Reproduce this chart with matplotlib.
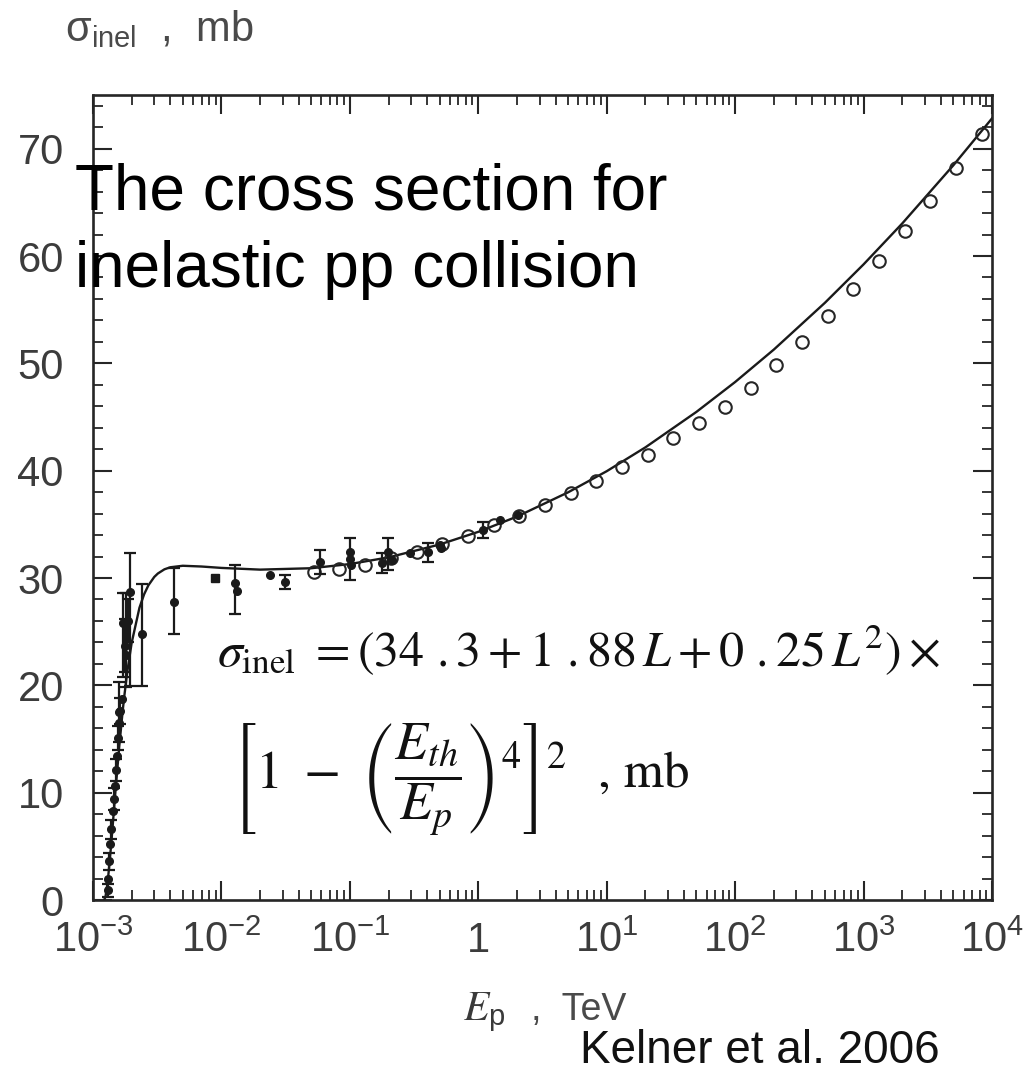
import numpy as np
import matplotlib
matplotlib.use('Agg')
import matplotlib.pyplot as plt
from matplotlib.ticker import MultipleLocator, LogLocator, NullFormatter

plt.rcParams['mathtext.fontset'] = 'custom'
plt.rcParams['mathtext.rm'] = 'Liberation Sans'
plt.rcParams['mathtext.it'] = 'Liberation Sans:italic'
plt.rcParams['mathtext.bf'] = 'Liberation Sans:bold'
plt.rcParams['font.family'] = ['Liberation Sans', 'DejaVu Sans']

# ---------------- data ----------------
# model curve sigma_inel(E_p)
curve_E = [1.22e-3, 1.25e-3, 1.3e-3, 1.35e-3, 1.4e-3, 1.45e-3, 1.5e-3, 1.6e-3, 1.7e-3,
           1.75e-3, 1.85e-3, 2.0e-3, 2.3e-3, 2.5e-3, 2.7e-3, 3.0e-3, 3.2e-3, 3.6e-3,
           4.0e-3, 5.0e-3, 7.0e-3, 1e-2, 2e-2, 5e-2, 0.1, 0.2, 0.5, 1, 2, 5, 10, 20,
           50, 100, 200, 500, 1000, 2000, 5000, 1e4]
curve_sig = [0.0, 0.28, 1.65, 3.64, 5.87, 8.13, 10.33, 14.27, 17.54,
             18.93, 21.28, 23.96, 27.23, 28.48, 29.32, 30.10, 30.42, 30.81,
             31.0, 31.14, 31.07, 30.94, 30.78, 30.91, 31.30, 31.92, 33.12, 34.30, 35.72, 37.98, 39.95, 42.17,
             45.48, 48.26, 51.28, 55.64, 59.22, 63.03, 68.45, 72.82]

# open circles
circ_E = [0.0525, 0.083, 0.132, 0.209, 0.331, 0.525, 0.832, 1.32, 2.09, 3.31, 5.25, 8.32,
          13.2, 20.9, 33.1, 52.5, 83.2, 132, 209, 331, 525, 832, 1318, 2089, 3311, 5248, 8318]
circ_sig = [30.6, 30.8, 31.2, 31.9, 32.4, 33.2, 33.9, 34.9, 35.8, 36.8, 37.9, 39.0,
            40.3, 41.5, 43.0, 44.4, 45.9, 47.7, 49.8, 52.0, 54.4, 56.9, 59.5, 62.3, 65.1, 68.2, 71.4]

# filled accelerator points with (lower, upper) errors
acc_E = [1.30e-3, 1.32e-3, 1.34e-3, 1.36e-3, 1.39e-3, 1.42e-3, 1.45e-3, 1.48e-3, 1.51e-3,
         1.54e-3, 1.57e-3, 1.60e-3, 1.63e-3, 1.67e-3, 1.58e-3,
         1.72e-3, 1.76e-3, 1.80e-3, 1.86e-3, 1.94e-3, 2.41e-3, 4.27e-3,
         1.28e-2, 1.32e-2, 2.39e-2, 3.13e-2, 5.86e-2, 0.100, 0.101, 0.102,
         0.178, 0.198, 0.213, 0.294, 0.406, 0.50, 0.51, 1.09, 1.48, 2.04]
acc_sig = [0.9, 2.0, 3.6, 5.2, 6.6, 8.3, 9.4, 10.6, 12.1,
           13.4, 15.1, 16.5, 17.6, 18.7, 17.5,
           25.8, 23.7, 22.8, 26.0, 28.7, 24.8, 27.8,
           29.5, 28.8, 30.3, 29.6, 31.5, 31.8, 32.4, 31.2,
           31.4, 32.4, 31.7, 32.3, 32.4, 33.1, 32.8, 34.5, 35.4, 35.9]
acc_lo = [0.6, 0, 0.8, 0, 0.9, 0, 1.0, 0, 1.0,
          0, 1.1, 0, 1.2, 0, 2.8,
          5.0, 2.5, 3.0, 2.0, 8.8, 4.9, 3.0,
          2.9, 0, 0, 0.65, 1.1, 2.0, 0, 0,
          0.9, 1.65, 0, 0, 0.9, 0, 0, 0.75, 0, 0]
acc_hi = [0.6, 0, 0.8, 0, 0.9, 0, 1.0, 0, 1.0,
          0, 1.1, 0, 1.2, 0, 2.8,
          2.8, 2.5, 5.8, 2.0, 3.6, 4.6, 3.1,
          1.7, 0, 0, 0.65, 1.1, 1.9, 0, 0,
          0.9, 1.3, 0, 0, 0.9, 0, 0, 0.75, 0, 0]

# square point
sq_E = [8.9e-3]
sq_sig = [30.0]

xtick_vals = [1e-3, 1e-2, 1e-1, 1, 1e1, 1e2, 1e3, 1e4]
xtick_labels = [r'$10^{-3}$', r'$10^{-2}$', r'$10^{-1}$', '1',
                r'$10^{1}$', r'$10^{2}$', r'$10^{3}$', r'$10^{4}$']
ytick_vals = [0, 10, 20, 30, 40, 50, 60, 70]
ytick_labels = ['0', '10', '20', '30', '40', '50', '60', '70']

# ---------------- figure ----------------
W, H = 1028, 1072
fig = plt.figure(figsize=(W / 100, H / 100), dpi=100)


def fx(x):
    return x / W


def fy(y):
    return 1 - y / H


ax = fig.add_axes([fx(93), fy(900), (992 - 93) / W, (900 - 95) / H])
ax.set_xscale('log')
ax.set_xlim(1e-3, 1e4)
ax.set_ylim(0, 75)

ink = '#262626'
ax.plot(curve_E, curve_sig, color='#1a1a1a', lw=1.7, zorder=3)
ax.plot(circ_E, circ_sig, 'o', mfc='none', mec=ink, ms=9, mew=1.5, zorder=4)

acc_E_a = np.array(acc_E)
acc_sig_a = np.array(acc_sig)
lo = np.array(acc_lo)
hi = np.array(acc_hi)
has_err = (lo + hi) > 0
ax.errorbar(acc_E_a[has_err], acc_sig_a[has_err], yerr=[lo[has_err], hi[has_err]],
            fmt='o', color='#1a1a1a', ms=5.5, elinewidth=1.6, capsize=4, capthick=1.6, zorder=5)
ax.plot(acc_E_a[~has_err], acc_sig_a[~has_err], 'o', color='#1a1a1a', ms=5.5, zorder=5)
ax.plot(sq_E, sq_sig, 's', color='#1a1a1a', ms=5.5, zorder=5)

ax.set_xticks(xtick_vals)
ax.set_xticklabels(xtick_labels)
ax.xaxis.set_minor_locator(LogLocator(base=10, subs=np.arange(2, 10) * 1.0, numticks=30))
ax.xaxis.set_minor_formatter(NullFormatter())
ax.set_yticks(ytick_vals)
ax.set_yticklabels(ytick_labels)
ax.yaxis.set_minor_locator(MultipleLocator(2))

lab_col = '#3c3c3c'
ax.tick_params(which='both', direction='in', top=True, right=True, colors=ink, labelcolor=lab_col)
ax.tick_params(which='major', length=14, width=1.5, labelsize=30)
ax.tick_params(which='minor', length=7.5, width=1.3)
ax.tick_params(axis='y', which='major', pad=21)
ax.tick_params(axis='x', which='major', pad=15)
for s in ax.spines.values():
    s.set_linewidth(1.9)
    s.set_color(ink)

# axis labels
fig.text(fx(65), fy(41), r'$\mathrm{\sigma_{inel}}$  ,  mb', fontsize=30, color='#4a4a4a',
         ha='left', va='baseline')
fig.text(fx(463), fy(1020), r'$E_{\mathregular{p}}$', fontsize=30, color='#3a3a3a',
         ha='left', va='baseline', math_fontfamily='stix')
fig.text(fx(531), fy(1020), ',  TeV', fontsize=27, color='#4a4a4a', ha='left', va='baseline')

# annotations
fig.text(fx(75), fy(210), 'The cross section for', fontsize=46, color='black',
         ha='left', va='baseline')
fig.text(fx(75), fy(287), 'inelastic pp collision', fontsize=46, color='black',
         ha='left', va='baseline')
fig.text(fx(580), fy(1063), 'Kelner et al. 2006', fontsize=33, color='#111111',
         ha='left', va='baseline')

# formula
fig.text(fx(217), fy(667), r'$\sigma_{\mathrm{inel}}\ = (34\ .3 + 1\ .88\,L + 0\ .25\,L^2)\times$',
         fontsize=36, color='#111111', ha='left', va='baseline', math_fontfamily='stix')
fig.text(fx(232), fy(780), r'$\left[1\ -\ \left(\dfrac{E_{th}}{E_p}\right)^4\right]^2$',
         fontsize=39, color='#111111', ha='left', va='center', math_fontfamily='stix')
fig.text(fx(598), fy(787), ', mb', fontsize=37, color='#111111', ha='left', va='baseline',
         family='STIXGeneral')

fig.savefig('out.png', dpi=100)
